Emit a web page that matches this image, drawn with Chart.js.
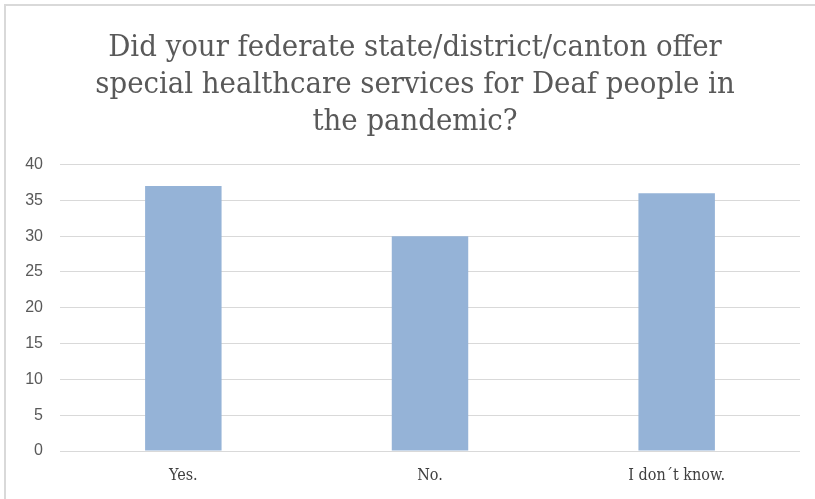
<!DOCTYPE html>
<html>
<head>
<meta charset="utf-8">
<script src="https://cdn.jsdelivr.net/npm/chart.js@4"></script>
<style>
  html, body { margin: 0; padding: 0; background: #fff; }
  #wrap {
    position: absolute;
    left: 4px;
    top: 4px;
    width: 811px;
    height: 495px;
    border-top: 2px solid #d9d9d9;
    border-left: 2px solid #d9d9d9;
  }
  #box { position: absolute; left: -6px; top: -6px; width: 815px; height: 499px; }
</style>
</head>
<body>
<div id="wrap">
  <div id="box"><canvas id="surveyChart" width="815" height="499"></canvas></div>
</div>
<script>
// Answers to the survey question
const titleLines = [
  'Did your federate state/district/canton offer',
  'special healthcare services for Deaf people in',
  'the pandemic?',
];
const answers = ['Yes.', 'No.', 'I don\u00b4t know.'];
const counts = [37, 30, 36];
const yTicks = [0, 5, 10, 15, 20, 25, 30, 35, 40];

document.addEventListener('DOMContentLoaded', function () {
  const ctx = document.getElementById('surveyChart');
  const data = {
    labels: answers,
    datasets: [
      {
        label: 'Responses',
        data: counts,
        backgroundColor: '#95b3d7',
        borderWidth: 0,
        categoryPercentage: 1,
        barPercentage: 0.31,
      },
    ],
  };
  const config = {
    type: 'bar',
    data,
    options: {
      responsive: false,
      animation: false,
      layout: {
        padding: { left: 15, right: 0, top: 30, bottom: 8 },
      },
      plugins: {
        legend: { display: false },
        tooltip: { enabled: false },
        title: {
          display: true,
          text: titleLines,
          color: '#595959',
          font: { family: '"DejaVu Serif Condensed", "DejaVu Serif"', size: 30.7, weight: 'normal', lineHeight: 1.2 },
          padding: { top: 0, bottom: 24 },
        },
      },
      scales: {
        x: {
          grid: { display: false },
          border: { display: false },
          afterFit: (axis) => {
            axis.height = 40;
          },
          ticks: {
            color: '#404040',
            font: { family: '"DejaVu Serif Condensed", "DejaVu Serif"', size: 16 },
            padding: 7,
          },
        },
        y: {
          min: 0,
          max: 40,
          afterBuildTicks: (axis) => {
            axis.ticks = yTicks.map((v) => ({ value: v }));
          },
          afterFit: (axis) => {
            axis.width = 45;
          },
          grid: { color: '#d9d9d9', lineWidth: 1, drawTicks: false },
          border: { display: false },
          ticks: {
            color: '#595959',
            font: { family: 'Liberation Sans', size: 16 },
            padding: 17,
          },
        },
        // empty spacer on the right so the plot stops short of the edge
        spacer: {
          type: 'linear',
          position: 'right',
          grid: { display: false },
          border: { display: false },
          ticks: { display: false },
          afterFit: (axis) => {
            axis.width = 15;
          },
        },
      },
    },
  };
  new Chart(ctx, config);
});
</script>
</body>
</html>
